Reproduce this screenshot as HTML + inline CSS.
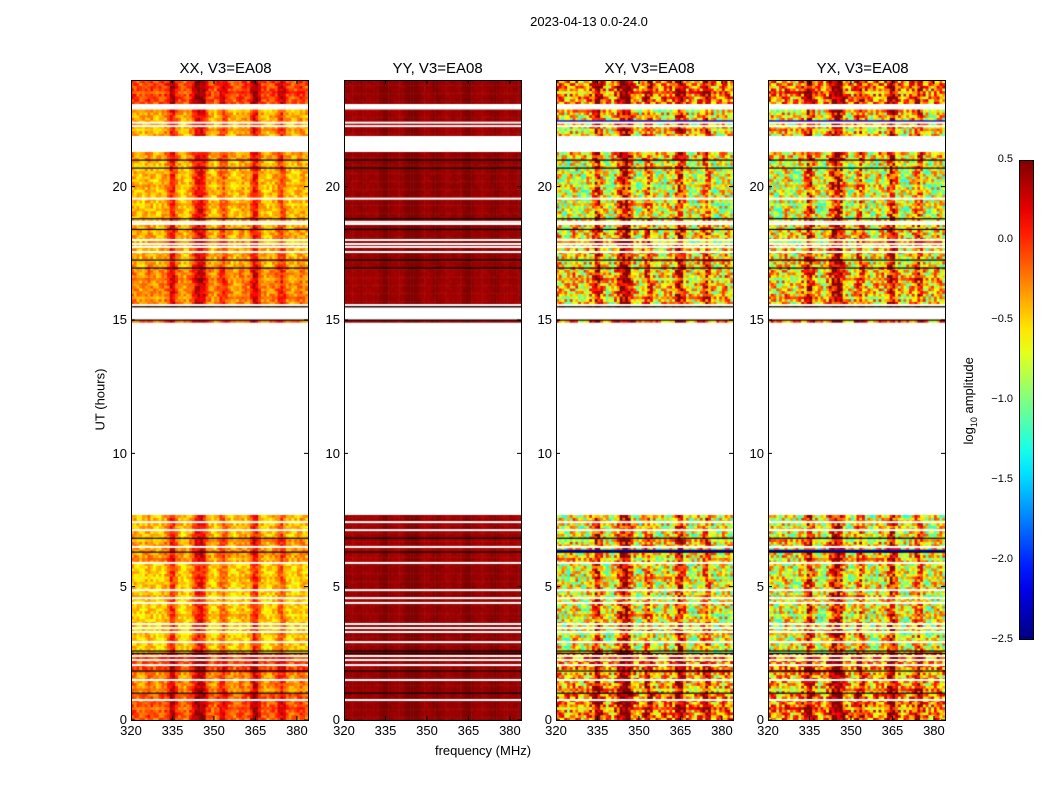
<!DOCTYPE html>
<html><head><meta charset="utf-8"><style>
body{margin:0;background:#fff;font-family:"Liberation Sans","DejaVu Sans",sans-serif;}
#root{position:relative;width:1050px;height:800px;overflow:hidden;background:#fff}
.t{position:absolute;white-space:nowrap;color:#000}
canvas{position:absolute}
.frame{position:absolute;border:1px solid #000;box-sizing:border-box}
</style></head><body>
<div id="root">
<div class="t" style="left:489px;top:14px;width:200px;text-align:center;font-size:13px">2023-04-13 0.0-24.0</div>
<div class="t" style="left:60px;top:392px;font-size:13px;transform:rotate(-90deg);transform-origin:center;width:80px;text-align:center">UT (hours)</div>
<div class="t" style="left:383px;top:743px;width:200px;text-align:center;font-size:13px">frequency (MHz)</div>
<div id="cbar" style="position:absolute;left:1019px;top:160px;width:15px;height:480px;border:1px solid #000;box-sizing:border-box"></div>
<div class="t" style="left:905px;top:392px;width:130px;text-align:center;font-size:13px;transform:rotate(-90deg)">log<sub style="font-size:9px">10</sub> amplitude</div>
</div>
<script>
// ---- data ----
const panelTitles = ["XX, V3=EA08","YY, V3=EA08","XY, V3=EA08","YX, V3=EA08"];
const xTicks = [320,335,350,365,380];
const yTicks = [0,5,10,15,20];
const cbarTicks = [0.5,0.0,-0.5,-1.0,-1.5,-2.0,-2.5];
const segStart = [0,1.0,1.85,2.55,5.9,6.8,14.9,15.5,17.0,18.8,21.0,21.9,23.1];
const segEnd   = [1.0,1.85,2.55,5.9,6.8,7.69,15.0,17.0,18.8,21.0,21.3,22.9,24];
const levelXX = [-0.15,-0.3,-0.1,-0.5,-0.35,-0.45,-0.2,-0.3,-0.4,-0.45,-0.35,-0.4,-0.1];
const levelYY = [0.42,0.42,0.4,0.42,0.38,0.4,0.42,0.4,0.42,0.42,0.42,0.4,0.42];
const levelXY = [-0.3,-0.45,-0.3,-0.7,-0.6,-0.7,-0.3,-0.55,-0.6,-0.75,-0.55,-0.6,-0.3];
const levelYX = [-0.3,-0.45,-0.3,-0.7,-0.6,-0.7,-0.3,-0.55,-0.6,-0.75,-0.55,-0.6,-0.3];
const freqProfile = [0.1,0.05,0,-0.05,0,0.05,0.1,0.05,0,-0.05,0,0.05,0.1,0.2,0.5,0.5,0.2,0.05,0,-0.05,0,0.1,0.3,0.5,0.6,0.6,0.5,0.2,0.05,0,-0.05,0.1,0.25,0.35,0.2,0.05,0,-0.05,0,0.05,0.1,0.05,0.05,0.3,0.55,0.5,0.2,0.05,0,-0.05,0,0.05,0.1,0.25,0.4,0.25,0.05,0,-0.05,0,0.05,0.1,0.05,0];
const ripple = [0.3,-0.4,0.1,-0.6,0.5,-0.2,0.6,-0.5,0.0,0.4,-0.3];
const rippleScale = [0.3,0.05,0.9,0.9];
const blueRowsHours = [6.35,22.45];
const whiteBands = [[7.69,14.9],[15.05,15.45],[21.3,21.9],[22.9,23.1]];
const whiteLines = [22.4,22.27,19.55,18.68,18.6,18.0,17.85,17.74,17.55,15.56,7.42,7.12,6.49,5.89,4.87,4.57,4.39,3.6,3.45,3.3,2.92,2.4,2.25,2.06,1.5,0.75];
const blackLines = [21.0,20.7,18.8,18.4,17.25,16.95,15.5,15.0,6.82,6.3,2.59,2.5,1.84,1.01];
const levels = [levelXX,levelYY,levelXY,levelYX];
const panelLeft = [131,344,556,768];
// ---- geometry ----
const PW=177, PT=80, PH=640, FMIN=320, FMAX=384;
const xs=(f,i)=>panelLeft[i]+(f-FMIN)/(FMAX-FMIN)*PW;
const ys=h=>PT+PH-(h/24)*PH;
function jet(t){t=Math.max(0,Math.min(1,t));const c=x=>Math.round(255*Math.max(0,Math.min(1,x)));
return [c(1.5-Math.abs(4*t-3)),c(1.5-Math.abs(4*t-2)),c(1.5-Math.abs(4*t-1))];}
const root=document.getElementById('root');
function txt(s,x,y,align,size,name){const d=document.createElement('div');d.className='t';
d.style.fontSize=size+'px';d.textContent=s;d.style.top=(y-size*0.6)+'px';
if(align==='c'){d.style.left=(x-40)+'px';d.style.width='80px';d.style.textAlign='center';}
else if(align==='r'){d.style.left=(x-80)+'px';d.style.width='80px';d.style.textAlign='right';}
else{d.style.left=x+'px';}


root.appendChild(d);}
for(let i=0;i<4;i++){
 const cv=document.createElement('canvas');cv.width=PW;cv.height=PH;
 cv.style.left=panelLeft[i]+'px';cv.style.top=PT+'px';
 
 
 root.appendChild(cv);
 const g=cv.getContext('2d');g.fillStyle='#fff';g.fillRect(0,0,PW,PH);
 const nR=240,nC=FMAX-FMIN;
 for(let r=0;r<nR;r++){const h=r*0.1+0.05;let s=-1;
  for(let k=0;k<segStart.length;k++)if(h>=segStart[k]&&h<segEnd[k])s=k;
  if(s<0)continue;
  for(let c=0;c<nC;c++){
   const ri=(c*5+r*3+(c*r)%7+i)%11;
   let v=levels[i][s]+freqProfile[c]*(i===1?0.2:(i>=2?1.6:1))+ripple[ri]*rippleScale[i];
   const [R,G,B]=jet((v+2.5)/3);g.fillStyle=`rgb(${R},${G},${B})`;
   const x0=xs(FMIN+c,i)-panelLeft[i],x1=xs(FMIN+c+1,i)-panelLeft[i];
   const y0=ys(h+0.05)-PT,y1=ys(h-0.05)-PT;
   g.fillRect(x0,y0,x1-x0+0.5,y1-y0+0.5);}
 }
 if(i>=2){for(const bh of blueRowsHours){g.fillStyle='rgb(0,0,200)';g.fillRect(0,ys(bh)-PT-1,PW,2.5);}}
 g.fillStyle='#fff';
 for(const b of whiteBands){g.fillRect(0,ys(b[1])-PT,PW,ys(b[0])-ys(b[1]));}
 for(const w of whiteLines){g.fillRect(0,ys(w)-PT-1,PW,2);}
 g.fillStyle='#000';
 for(const b of blackLines){g.fillRect(0,ys(b)-PT-0.5,PW,1.2);}
 const fr=document.createElement('div');fr.className='frame';
 fr.style.left=panelLeft[i]+'px';fr.style.top=PT+'px';fr.style.width=(PW+1)+'px';fr.style.height=(PH+1)+'px';
 
 
 root.appendChild(fr);
 const sv=document.createElementNS('http://www.w3.org/2000/svg','svg');
 sv.setAttribute('width',PW+2);sv.setAttribute('height',PH+2);
 sv.style.position='absolute';sv.style.left=panelLeft[i]+'px';sv.style.top=PT+'px';
 let p='';
 for(const f of xTicks){const x=xs(f,i)-panelLeft[i];p+=`M${x} ${PH}v-4M${x} 0v4`;}
 for(const t of yTicks){const y=ys(t)-PT;p+=`M0 ${y}h4M${PW} ${y}h-4`;}
 sv.innerHTML=`<path d="${p}" stroke="#000" stroke-width="1" fill="none"/>`;
 
 
 root.appendChild(sv);
 txt(panelTitles[i],panelLeft[i]+PW/2,69,'c',15,'panel-title-'+(i+1));
 for(const f of xTicks)txt(String(f),xs(f,i),731,'c',13,'x-tick-label');
 for(const t of yTicks)txt(String(t),panelLeft[i]-4,ys(t),'r',13,'y-tick-label');
}
const stops=[];for(let k=0;k<=20;k++){const [R,G,B]=jet(1-k/20);stops.push(`rgb(${R},${G},${B}) ${k*5}%`);}
document.getElementById('cbar').style.background=`linear-gradient(${stops.join(',')})`;
for(const v of cbarTicks){const y=160+(0.5-v)/3*480;
 txt(v.toFixed(1).replace('-','\u2212'),1013,y,'r',11,'colorbar-tick-label');}
</script>
</body></html>
